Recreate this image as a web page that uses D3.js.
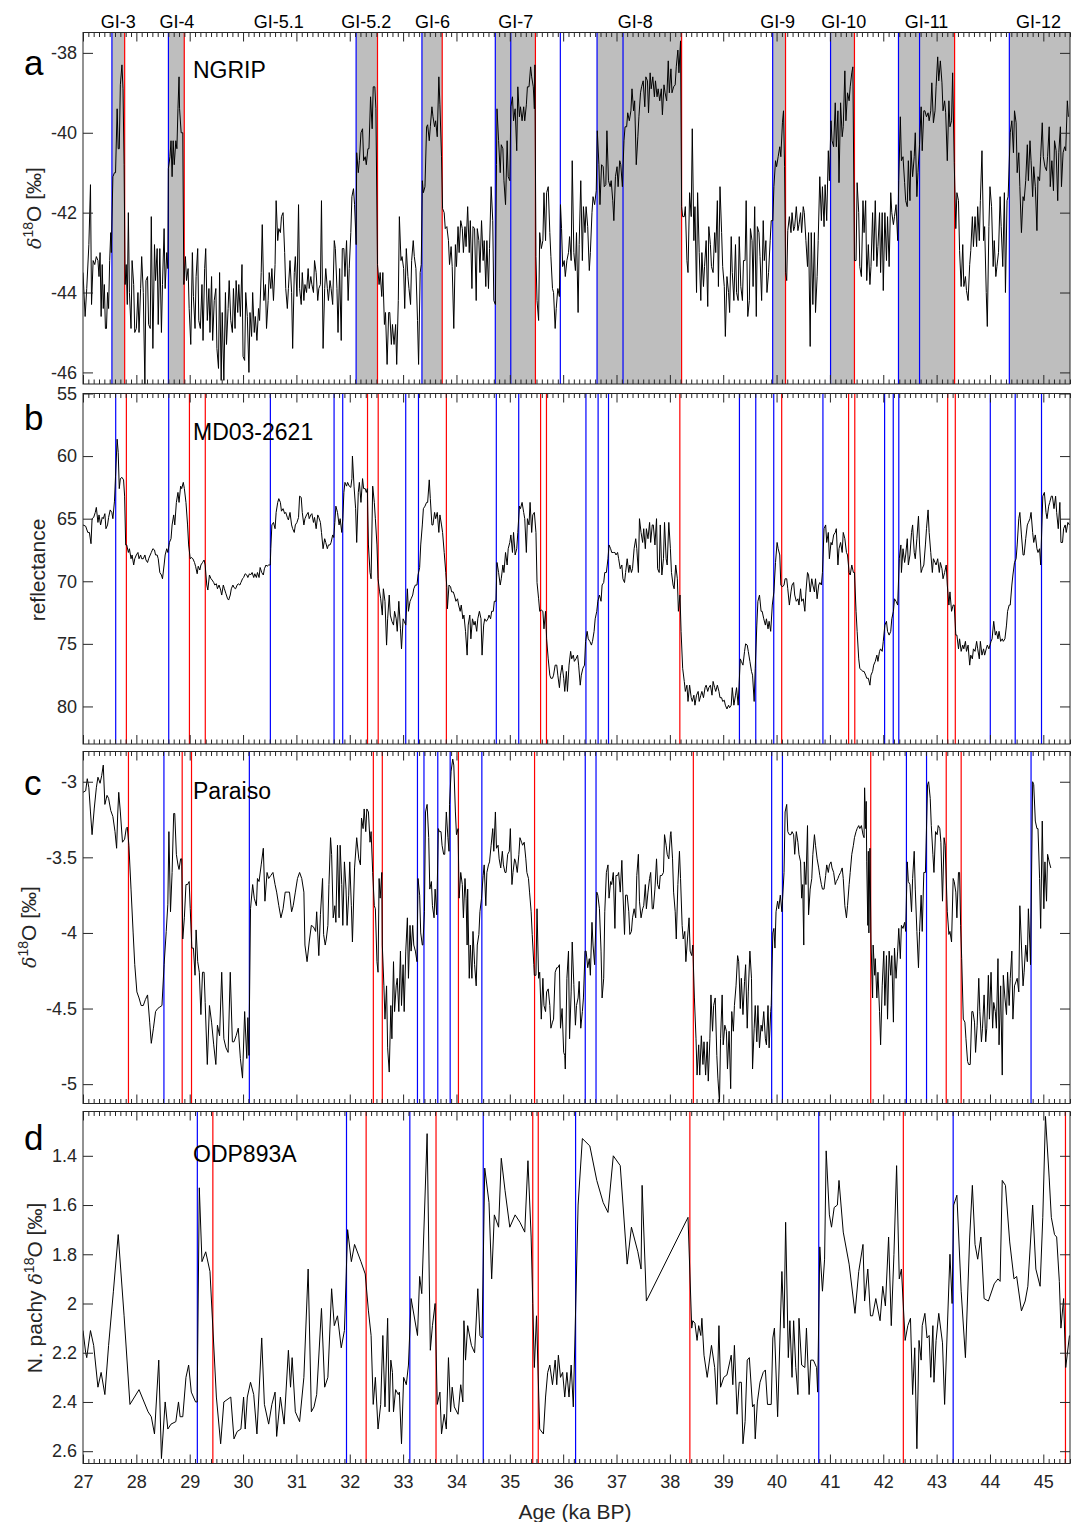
<!DOCTYPE html>
<html><head><meta charset="utf-8">
<script src="https://cdn.jsdelivr.net/npm/d3@7"></script>
<style>body{margin:0;background:#fff}svg{display:block;font-family:"Liberation Sans",Arial,Helvetica,sans-serif}</style>
</head><body>
<svg id="chart" width="1073" height="1522"></svg>
<script>
// ---------------- DATA ----------------
const ageTicks = [27,28,29,30,31,32,33,34,35,36,37,38,39,40,41,42,43,44,45];
const aTicks = [-38,-40,-42,-44,-46];
const bTicks = [55,60,65,70,75,80];
const cTicks = [-3,-3.5,-4,-4.5,-5];
const dTicks = [1.4,1.6,1.8,2,2.2,2.4,2.6];

const giNames = ["GI-3","GI-4","GI-5.1","GI-5.2","GI-6","GI-7","GI-8","GI-9","GI-10","GI-11","GI-12"];
const giAges  = [27.66,28.76,30.67,32.31,33.55,35.11,37.35,40.02,41.26,42.81,44.91];

const aShade = [[27.542,27.781],[28.601,28.898],[32.119,32.52],[33.353,33.733],[34.728,35.48],[36.635,38.22],[39.927,40.168],[41.012,41.46],[42.285,43.337],[44.363,45.5]];
const aBlue = [27.542,28.601,32.119,33.353,34.728,35.018,35.947,36.635,37.122,39.927,41.012,42.285,42.68,44.363];
const aRed  = [27.781,28.898,32.52,33.733,35.48,38.22,40.168,41.46,43.337];
const bBlue = [27.613,28.607,30.512,31.706,31.868,33.049,33.288,34.747,35.167,36.427,36.655,36.85,39.304,39.61,39.947,40.869,42.025,42.187,42.291,44.006,44.473,44.966];
const bRed  = [27.813,28.995,29.292,32.333,32.533,33.811,35.577,35.687,38.187,40.096,41.35,41.466,43.207,43.35];
const cBlue = [28.517,30.118,33.269,33.391,33.65,33.882,34.476,36.414,36.616,39.908,40.11,42.434,42.811,44.77];
const cRed  = [27.852,28.859,29.034,32.442,32.61,34.037,35.464,38.44,41.765,43.18,43.46];
const dBlue = [29.143,31.939,33.126,34.502,36.233,40.791,43.31];
const dRed  = [29.434,32.307,33.617,35.43,35.533,38.375,42.376,45.415];

const ngrip = [[27.00,-43.5],[27.04,-44.6],[27.07,-43.9],[27.11,-42.8],[27.14,-41.3],[27.16,-44.3],[27.19,-43.2],[27.22,-43.3],[27.25,-43.1],[27.28,-43.2],[27.30,-43.6],[27.32,-43.0],[27.34,-44.6],[27.36,-43.3],[27.38,-44.4],[27.40,-43.8],[27.42,-44.9],[27.44,-44.9],[27.46,-44.0],[27.48,-44.4],[27.50,-43.2],[27.52,-42.5],[27.53,-43.0],
[27.56,-41.1],[27.59,-41.0],[27.61,-41.0],[27.64,-39.4],[27.66,-40.4],[27.68,-40.4],[27.70,-38.8],[27.73,-38.3],[27.75,-38.9],[27.77,-40.8],[27.79,-43.8],
[27.81,-43.3],[27.83,-44.3],[27.85,-42.0],[27.87,-44.0],[27.90,-44.9],[27.92,-43.2],[27.95,-43.8],[27.97,-45.0],[28.00,-44.9],[28.03,-44.0],[28.05,-45.0],[28.08,-43.9],[28.10,-43.1],[28.13,-44.0],[28.16,-46.3],[28.18,-43.7],[28.21,-43.6],[28.23,-44.8],[28.26,-44.9],[28.28,-42.1],[28.31,-45.4],[28.34,-42.8],[28.36,-43.7],[28.39,-42.9],[28.41,-44.8],[28.44,-42.9],[28.47,-45.0],[28.49,-43.8],[28.52,-42.4],[28.54,-43.9],[28.57,-43.0],[28.59,-43.4],
[28.60,-40.9],[28.63,-40.6],[28.65,-40.2],[28.67,-41.1],[28.69,-40.2],[28.71,-40.8],[28.74,-40.2],[28.76,-40.4],[28.78,-39.4],[28.80,-38.6],[28.81,-39.4],[28.84,-40.0],[28.87,-40.0],[28.89,-43.8],
[28.92,-43.1],[28.94,-43.7],[28.97,-43.4],[28.99,-44.4],[29.02,-45.3],[29.05,-43.0],[29.07,-44.1],[29.10,-44.9],[29.12,-43.6],[29.15,-42.9],[29.17,-44.7],[29.20,-44.9],[29.23,-43.8],[29.25,-45.2],[29.28,-43.4],[29.30,-42.9],[29.33,-44.7],[29.36,-43.9],[29.38,-45.0],[29.41,-43.6],[29.43,-45.2],[29.46,-44.2],[29.49,-43.9],[29.51,-45.4],[29.54,-45.9],[29.56,-43.5],[29.59,-46.2],[29.61,-44.5],[29.64,-46.2],[29.67,-44.0],[29.69,-45.3],[29.72,-44.4],[29.74,-43.7],[29.77,-44.7],[29.80,-45.0],[29.82,-43.9],[29.85,-44.9],[29.87,-43.7],[29.90,-44.5],[29.92,-43.8],[29.95,-44.6],[29.98,-43.3],[30.00,-45.6],[30.03,-45.7],[30.05,-44.0],[30.08,-44.6],[30.11,-46.0],[30.13,-44.5],[30.16,-45.1],[30.18,-44.0],[30.21,-45.0],[30.23,-44.6],[30.26,-45.2],[30.29,-44.4],[30.31,-44.7],[30.34,-43.5],[30.36,-42.3],[30.39,-44.2],[30.42,-43.8],[30.44,-44.9],[30.47,-44.2],[30.49,-43.5],[30.52,-43.9],[30.54,-43.4],[30.57,-44.2],[30.60,-43.3],[30.62,-41.7],[30.65,-42.7],[30.67,-42.4],[30.70,-42.5],[30.72,-42.1],[30.75,-42.0],[30.78,-43.0],[30.80,-43.9],[30.83,-44.4],[30.85,-43.9],[30.88,-43.2],[30.91,-44.0],[30.93,-45.4],[30.96,-43.5],[30.98,-43.1],[31.01,-44.1],[31.04,-41.8],[31.06,-43.9],[31.09,-44.3],[31.11,-43.5],[31.14,-44.2],[31.16,-43.8],[31.19,-44.0],[31.22,-43.4],[31.24,-43.9],[31.27,-43.6],[31.29,-43.8],[31.32,-44.0],[31.34,-43.2],[31.37,-43.5],[31.40,-44.2],[31.42,-43.9],[31.45,-43.8],[31.47,-41.7],[31.50,-45.4],[31.53,-43.9],[31.55,-43.4],[31.58,-43.9],[31.60,-44.2],[31.63,-43.7],[31.65,-43.9],[31.68,-44.3],[31.71,-42.7],[31.73,-42.9],[31.76,-43.9],[31.78,-45.0],[31.81,-43.4],[31.84,-45.2],[31.86,-42.9],[31.89,-42.9],[31.91,-43.6],[31.94,-42.7],[31.97,-44.2],[31.99,-43.4],[32.02,-42.5],[32.04,-41.6],[32.07,-41.4],[32.09,-41.8],[32.12,-42.8],
[32.13,-40.5],[32.16,-41.0],[32.18,-40.7],[32.21,-40.0],[32.24,-39.9],[32.26,-40.7],[32.29,-40.6],[32.31,-40.8],[32.34,-40.4],[32.36,-40.4],[32.39,-39.1],[32.42,-39.9],[32.44,-38.85],[32.47,-38.85],[32.49,-39.4],[32.52,-43.3],
[32.55,-43.8],[32.57,-43.5],[32.60,-44.1],[32.62,-43.5],[32.65,-44.8],[32.67,-44.5],[32.70,-45.8],[32.73,-44.5],[32.75,-44.5],[32.78,-45.3],[32.80,-44.8],[32.83,-45.3],[32.86,-44.8],[32.88,-45.8],[32.91,-44.2],[32.93,-42.1],[32.96,-43.2],[32.98,-43.1],[33.01,-43.4],[33.03,-44.4],[33.06,-42.9],[33.09,-43.6],[33.11,-43.9],[33.14,-44.3],[33.16,-43.2],[33.19,-42.7],[33.21,-43.1],[33.24,-43.4],[33.27,-44.7],[33.29,-45.8],[33.32,-43.5],[33.34,-43.3],
[33.36,-41.2],[33.38,-41.5],[33.41,-41.35],[33.44,-39.85],[33.46,-39.8],[33.49,-40.2],[33.51,-39.85],[33.54,-39.35],[33.56,-39.6],[33.59,-39.85],[33.61,-39.7],[33.64,-40.1],[33.67,-38.6],[33.69,-39.3],[33.72,-40.6],[33.74,-41.9],
[33.77,-42.0],[33.79,-42.4],[33.82,-42.35],[33.85,-42.7],[33.87,-43.3],[33.90,-42.85],[33.92,-43.35],[33.95,-44.9],[33.98,-42.8],[34.00,-43.35],[34.03,-42.35],[34.05,-43.0],[34.08,-42.2],[34.11,-42.4],[34.13,-43.0],[34.16,-42.35],[34.18,-42.85],[34.21,-41.85],[34.24,-43.0],[34.26,-42.2],[34.29,-43.9],[34.31,-42.35],[34.34,-42.4],[34.37,-44.2],[34.39,-42.4],[34.42,-42.7],[34.44,-43.5],[34.47,-42.2],[34.50,-43.2],[34.52,-42.7],[34.55,-43.85],[34.57,-42.7],[34.60,-43.9],[34.62,-42.9],[34.65,-41.35],[34.68,-42.2],[34.70,-44.2],[34.73,-44.3],
[34.75,-40.8],[34.76,-39.4],[34.79,-40.2],[34.82,-41.0],[34.84,-40.3],[34.87,-40.4],[34.89,-41.2],[34.92,-41.8],[34.95,-40.2],[34.97,-41.1],[35.00,-41.2],[35.02,-39.35],[35.05,-39.1],[35.07,-39.7],[35.10,-39.4],[35.13,-40.45],[35.15,-38.85],[35.18,-39.6],[35.20,-39.35],[35.23,-39.7],[35.26,-39.35],[35.28,-39.7],[35.31,-39.3],[35.33,-38.85],[35.36,-38.85],[35.39,-38.35],[35.41,-38.6],[35.44,-38.85],[35.46,-39.4],[35.47,-38.3],
[35.49,-43.1],[35.51,-44.2],[35.54,-44.7],[35.56,-42.5],[35.59,-42.9],[35.62,-42.7],[35.64,-41.5],[35.67,-42.7],[35.69,-41.5],[35.72,-41.35],[35.75,-42.5],[35.77,-43.1],[35.80,-43.9],[35.82,-44.0],[35.85,-44.9],[35.87,-44.4],[35.90,-43.9],[35.93,-44.1],[35.95,-41.8],[35.97,-42.4],[35.99,-43.35],[36.02,-43.2],[36.04,-43.6],[36.07,-43.2],[36.10,-43.0],[36.12,-42.6],[36.15,-43.2],[36.17,-40.7],[36.20,-43.0],[36.23,-43.45],[36.25,-42.5],[36.28,-44.5],[36.30,-42.8],[36.33,-41.2],[36.36,-43.2],[36.38,-41.85],[36.41,-42.5],[36.43,-41.85],[36.46,-42.35],[36.49,-43.45],[36.51,-43.0],[36.54,-42.0],[36.56,-41.6],[36.59,-41.8],[36.62,-41.45],
[36.64,-39.95],[36.67,-40.8],[36.69,-41.8],[36.72,-40.8],[36.75,-40.85],[36.77,-41.35],[36.80,-41.3],[36.82,-39.95],[36.85,-41.2],[36.88,-41.35],[36.90,-41.2],[36.93,-41.7],[36.95,-42.2],[36.98,-41.1],[37.01,-40.85],[37.03,-41.35],[37.06,-40.7],[37.08,-40.8],[37.11,-41.35],[37.14,-40.2],[37.16,-39.85],[37.19,-39.85],[37.21,-39.5],[37.24,-39.7],[37.27,-39.45],[37.29,-38.9],[37.32,-39.45],[37.34,-39.2],[37.37,-40.8],[37.40,-40.1],[37.42,-39.6],[37.45,-39.0],[37.47,-38.85],[37.50,-38.7],[37.53,-39.35],[37.55,-38.6],[37.58,-38.7],[37.60,-39.5],[37.63,-38.5],[37.65,-38.9],[37.68,-38.6],[37.71,-39.1],[37.73,-38.7],[37.76,-39.1],[37.78,-38.9],[37.81,-39.2],[37.84,-38.9],[37.86,-39.55],[37.89,-38.8],[37.91,-39.0],[37.94,-39.2],[37.97,-38.2],[37.99,-39.0],[38.02,-38.4],[38.04,-39.0],[38.07,-38.85],[38.10,-38.8],[38.12,-38.35],[38.15,-37.93],[38.17,-38.5],[38.20,-37.7],[38.22,-41.85],
[38.24,-42.1],[38.27,-42.1],[38.29,-41.85],[38.32,-43.2],[38.34,-43.5],[38.37,-41.5],[38.40,-42.1],[38.42,-39.9],[38.45,-42.7],[38.47,-41.85],[38.50,-44.0],[38.52,-41.5],[38.55,-43.0],[38.58,-44.2],[38.60,-43.0],[38.63,-43.85],[38.65,-43.35],[38.68,-42.7],[38.71,-44.35],[38.73,-42.35],[38.76,-42.8],[38.78,-43.35],[38.81,-43.5],[38.84,-42.5],[38.86,-43.0],[38.89,-41.7],[38.91,-43.85],[38.94,-41.35],[38.97,-42.5],[38.99,-43.35],[39.02,-43.85],[39.04,-45.1],[39.07,-43.6],[39.10,-44.0],[39.12,-44.5],[39.15,-42.6],[39.17,-43.5],[39.20,-44.2],[39.23,-42.8],[39.25,-44.0],[39.28,-44.2],[39.30,-42.6],[39.33,-43.85],[39.36,-44.2],[39.38,-43.2],[39.41,-43.2],[39.43,-41.7],[39.46,-44.6],[39.49,-44.2],[39.51,-42.4],[39.54,-42.7],[39.56,-43.85],[39.59,-41.85],[39.62,-44.6],[39.64,-42.35],[39.67,-42.5],[39.69,-43.1],[39.72,-44.2],[39.75,-42.2],[39.77,-43.2],[39.80,-42.7],[39.82,-44.0],[39.85,-43.5],[39.88,-42.7],[39.90,-42.2],
[39.93,-42.2],[39.95,-41.35],[39.98,-40.7],[40.00,-40.85],[40.03,-40.6],[40.06,-40.35],[40.08,-40.6],[40.11,-39.75],[40.13,-39.45],[40.15,-40.85],[40.17,-43.5],
[40.19,-43.7],[40.21,-42.45],[40.24,-42.1],[40.27,-42.5],[40.29,-42.0],[40.32,-42.45],[40.34,-42.35],[40.37,-41.85],[40.40,-42.45],[40.42,-42.3],[40.45,-42.0],[40.47,-42.5],[40.50,-41.85],[40.52,-42.0],[40.55,-42.7],[40.58,-43.35],[40.60,-42.5],[40.63,-45.35],[40.65,-42.5],[40.68,-44.3],[40.71,-42.5],[40.73,-44.5],[40.76,-43.6],[40.78,-42.7],[40.81,-41.1],[40.84,-42.2],[40.86,-41.35],[40.89,-42.35],[40.91,-41.3],[40.94,-42.2],[40.97,-40.45],[40.99,-41.2],
[41.02,-39.7],[41.04,-40.2],[41.07,-40.35],[41.10,-39.25],[41.12,-40.35],[41.15,-39.45],[41.17,-41.25],[41.20,-39.25],[41.23,-40.1],[41.25,-39.85],[41.28,-38.45],[41.30,-39.7],[41.33,-39.0],[41.36,-39.2],[41.38,-38.85],[41.41,-38.5],[41.43,-38.35],[41.46,-43.2],
[41.49,-43.2],[41.51,-41.25],[41.54,-42.0],[41.56,-43.35],[41.59,-43.6],[41.62,-41.7],[41.64,-42.5],[41.67,-41.7],[41.69,-43.7],[41.72,-42.8],[41.75,-43.8],[41.77,-43.35],[41.80,-42.0],[41.82,-43.2],[41.85,-41.7],[41.88,-43.35],[41.90,-42.85],[41.93,-42.0],[41.95,-43.5],[41.98,-42.0],[42.00,-43.95],[42.03,-42.0],[42.06,-43.2],[42.08,-42.1],[42.11,-43.35],[42.14,-41.5],[42.16,-42.0],[42.19,-42.3],[42.21,-42.1],[42.24,-41.8],[42.27,-42.7],
[42.29,-41.2],[42.32,-39.6],[42.34,-40.7],[42.37,-40.6],[42.40,-41.25],[42.42,-41.7],[42.45,-41.85],[42.47,-40.7],[42.50,-41.7],[42.52,-40.45],[42.55,-41.1],[42.58,-40.6],[42.60,-40.0],[42.63,-41.6],[42.65,-41.0],[42.68,-40.3],[42.71,-39.35],[42.73,-40.45],[42.76,-39.45],[42.78,-39.45],[42.81,-39.6],[42.84,-39.5],[42.86,-39.7],[42.89,-39.45],[42.91,-38.75],[42.94,-39.75],[42.97,-39.45],[42.99,-38.85],[43.02,-38.1],[43.04,-38.7],[43.07,-38.2],[43.10,-38.75],[43.12,-39.45],[43.15,-39.2],[43.17,-39.5],[43.20,-40.7],[43.23,-39.2],[43.25,-39.85],[43.28,-39.7],[43.30,-38.5],[43.33,-40.75],
[43.36,-42.4],[43.38,-41.5],[43.41,-41.7],[43.43,-42.95],[43.46,-43.85],[43.49,-42.8],[43.51,-43.85],[43.54,-43.6],[43.56,-43.95],[43.59,-44.2],[43.62,-43.3],[43.64,-42.95],[43.67,-42.1],[43.69,-42.85],[43.72,-42.1],[43.75,-42.85],[43.77,-41.85],[43.80,-42.7],[43.82,-41.7],[43.85,-40.45],[43.88,-42.7],[43.90,-42.35],[43.93,-44.0],[43.95,-44.85],[43.98,-42.35],[44.00,-41.35],[44.03,-41.85],[44.06,-43.35],[44.08,-42.7],[44.11,-43.6],[44.13,-43.35],[44.16,-43.0],[44.19,-41.6],[44.21,-42.35],[44.24,-43.35],[44.27,-41.5],[44.29,-44.0],[44.32,-41.7],[44.34,-41.6],
[44.38,-40.0],[44.41,-39.7],[44.44,-40.5],[44.46,-39.45],[44.49,-39.75],[44.51,-41.0],[44.54,-40.5],[44.56,-41.35],[44.59,-42.5],[44.62,-41.6],[44.64,-41.7],[44.67,-41.2],[44.70,-40.3],[44.72,-41.2],[44.75,-40.2],[44.77,-40.7],[44.80,-41.6],[44.82,-40.85],[44.85,-41.35],[44.88,-42.45],[44.90,-41.1],[44.93,-41.2],[44.95,-40.6],[44.98,-39.75],[45.00,-40.6],[45.03,-40.85],[45.06,-40.95],[45.08,-40.6],[45.11,-39.85],[45.13,-41.35],[45.16,-40.7],[45.19,-41.45],[45.21,-40.2],[45.24,-40.45],[45.27,-41.7],[45.29,-40.5],[45.32,-39.85],[45.34,-41.35],[45.37,-40.5],[45.40,-40.35],[45.42,-40.45],[45.45,-39.2],[45.47,-39.6]];

const md03 = [[27.00,65.5],[27.05,65.6],[27.09,66.1],[27.12,66.1],[27.15,67.0],[27.17,65.0],[27.20,64.9],[27.23,64.5],[27.25,64.1],[27.28,65.3],[27.30,64.7],[27.33,65.5],[27.36,64.9],[27.38,65.0],[27.41,64.6],[27.43,65.8],[27.46,65.5],[27.48,64.9],[27.51,64.3],[27.54,64.5],[27.56,65.0],[27.59,63.6],[27.61,61.6],[27.64,58.65],[27.66,59.7],[27.68,62.6],[27.70,61.8],[27.73,61.7],[27.76,61.9],[27.78,63.2],[27.80,67.1],[27.82,67.1],[27.85,67.7],[27.87,67.4],[27.90,68.2],[27.92,67.9],[27.95,68.7],[27.97,68.2],[28.00,67.9],[28.03,67.7],[28.05,68.2],[28.08,67.9],[28.10,68.2],[28.13,68.2],[28.16,67.9],[28.18,68.3],[28.21,68.5],[28.23,68.2],[28.26,67.9],[28.28,67.7],[28.31,67.4],[28.34,67.5],[28.36,67.9],[28.39,67.9],[28.41,68.2],[28.44,69.3],[28.47,69.5],[28.49,69.8],[28.52,68.7],[28.54,67.9],[28.57,67.4],[28.59,67.7],[28.62,66.9],[28.65,66.6],[28.67,65.5],[28.70,64.7],[28.72,65.5],[28.75,63.7],[28.78,62.9],[28.80,63.7],[28.83,62.4],[28.85,62.6],[28.88,62.1],[28.90,62.6],[28.93,63.7],[28.96,65.5],[28.98,67.1],[29.01,68.2],[29.03,68.1],[29.06,68.2],[29.09,68.5],[29.11,68.8],[29.14,69.4],[29.16,68.8],[29.19,69.1],[29.21,68.7],[29.24,68.5],[29.27,68.3],[29.29,68.7],[29.32,70.3],[29.34,70.7],[29.37,69.5],[29.40,69.8],[29.42,69.9],[29.45,70.1],[29.47,70.3],[29.50,70.2],[29.52,70.6],[29.55,70.3],[29.58,70.7],[29.60,71.1],[29.63,70.3],[29.65,70.6],[29.68,71.0],[29.71,71.4],[29.73,71.5],[29.76,71.1],[29.78,70.6],[29.81,70.3],[29.83,70.5],[29.86,70.6],[29.89,70.3],[29.91,70.2],[29.94,70.3],[29.96,70.1],[29.99,69.8],[30.01,69.7],[30.04,69.4],[30.07,69.5],[30.09,69.7],[30.12,69.4],[30.14,69.5],[30.17,69.3],[30.20,69.7],[30.22,69.4],[30.25,69.7],[30.27,69.3],[30.30,69.7],[30.32,68.9],[30.35,69.3],[30.38,69.5],[30.40,69.0],[30.43,68.7],[30.45,68.8],[30.48,68.7],[30.51,68.7],[30.52,67.4],[30.54,65.5],[30.57,65.3],[30.60,65.8],[30.62,64.5],[30.65,63.7],[30.67,63.4],[30.70,63.7],[30.72,64.4],[30.75,64.2],[30.78,64.6],[30.80,64.5],[30.83,64.9],[30.85,65.1],[30.88,64.5],[30.91,65.5],[30.93,65.8],[30.96,66.1],[30.98,65.5],[31.01,65.3],[31.04,64.9],[31.06,63.2],[31.09,63.3],[31.11,64.5],[31.14,65.5],[31.16,65.0],[31.19,64.7],[31.22,64.5],[31.24,65.0],[31.27,64.7],[31.29,64.6],[31.32,65.3],[31.34,64.9],[31.37,65.8],[31.40,64.7],[31.42,64.9],[31.45,65.3],[31.47,66.1],[31.50,67.4],[31.53,66.6],[31.55,66.9],[31.58,67.4],[31.60,67.1],[31.63,67.1],[31.65,66.9],[31.68,66.3],[31.70,66.5],[31.72,65.3],[31.74,64.0],[31.77,64.5],[31.80,65.5],[31.82,65.0],[31.85,66.1],[31.87,65.0],[31.89,62.9],[31.91,62.1],[31.94,62.4],[31.96,62.1],[31.99,62.4],[32.02,62.5],[32.04,61.8],[32.05,60.0],[32.08,62.4],[32.11,64.2],[32.13,66.9],[32.16,62.9],[32.18,62.1],[32.21,63.7],[32.24,61.8],[32.26,62.6],[32.29,62.6],[32.31,62.9],[32.33,62.6],[32.35,67.1],[32.38,69.3],[32.40,69.8],[32.43,62.4],[32.46,63.7],[32.48,65.0],[32.51,67.1],[32.53,69.8],[32.56,70.85],[32.58,71.4],[32.61,72.7],[32.63,70.6],[32.66,71.6],[32.69,75.1],[32.71,73.0],[32.74,71.1],[32.76,72.7],[32.79,73.2],[32.82,73.5],[32.84,72.4],[32.87,73.0],[32.89,74.0],[32.92,71.6],[32.95,73.8],[32.97,75.4],[33.00,73.0],[33.02,73.2],[33.05,73.5],[33.08,70.6],[33.10,72.4],[33.13,71.6],[33.15,71.4],[33.18,71.1],[33.20,70.6],[33.23,70.3],[33.26,70.3],[33.28,69.5],[33.31,68.9],[33.33,67.1],[33.36,65.5],[33.38,64.2],[33.41,64.0],[33.44,63.7],[33.46,63.7],[33.49,61.9],[33.51,63.4],[33.54,65.5],[33.56,65.5],[33.59,64.5],[33.61,65.0],[33.64,64.5],[33.67,66.1],[33.69,64.7],[33.72,65.5],[33.74,66.1],[33.77,67.7],[33.80,69.3],[33.82,70.5],[33.83,72.2],[33.86,70.3],[33.89,70.45],[33.91,70.85],[33.94,70.85],[33.96,71.1],[33.99,71.6],[34.02,71.4],[34.04,71.9],[34.07,72.4],[34.09,71.9],[34.12,73.0],[34.14,72.7],[34.17,74.0],[34.20,75.9],[34.22,73.5],[34.25,72.7],[34.27,74.6],[34.30,73.0],[34.33,73.5],[34.35,73.2],[34.38,74.0],[34.40,73.0],[34.43,72.4],[34.46,73.0],[34.48,75.9],[34.51,73.5],[34.53,73.0],[34.56,73.2],[34.59,73.0],[34.61,72.7],[34.64,73.0],[34.66,72.4],[34.69,72.4],[34.71,71.6],[34.74,71.6],[34.76,68.5],[34.79,69.3],[34.82,70.3],[34.84,69.8],[34.87,68.7],[34.89,69.3],[34.92,67.7],[34.95,68.7],[34.97,67.4],[35.00,66.9],[35.02,66.3],[35.05,67.7],[35.07,66.1],[35.10,67.9],[35.13,67.4],[35.15,66.1],[35.18,64.0],[35.20,64.2],[35.23,63.7],[35.26,64.5],[35.28,65.0],[35.31,67.7],[35.33,65.0],[35.36,65.5],[35.38,63.7],[35.41,66.1],[35.43,64.7],[35.46,64.5],[35.49,66.1],[35.51,70.1],[35.54,71.4],[35.56,72.4],[35.59,72.3],[35.62,72.4],[35.64,73.8],[35.67,72.4],[35.69,74.6],[35.72,76.2],[35.75,77.5],[35.77,77.75],[35.80,77.75],[35.82,77.5],[35.85,76.7],[35.88,76.7],[35.90,77.5],[35.93,78.5],[35.95,77.5],[35.98,76.7],[36.01,77.75],[36.03,78.8],[36.06,77.2],[36.08,78.8],[36.11,76.7],[36.14,75.6],[36.16,76.2],[36.19,75.9],[36.21,76.4],[36.24,76.2],[36.27,75.9],[36.29,76.7],[36.32,78.3],[36.34,77.5],[36.37,76.95],[36.40,76.7],[36.42,74.8],[36.45,74.0],[36.47,74.6],[36.50,74.8],[36.53,75.1],[36.55,74.8],[36.58,74.0],[36.60,73.0],[36.63,72.4],[36.65,71.6],[36.68,71.1],[36.71,71.6],[36.73,70.3],[36.76,70.1],[36.78,69.3],[36.81,69.3],[36.84,68.2],[36.86,67.1],[36.89,67.4],[36.91,67.7],[36.94,67.7],[36.97,67.7],[36.99,67.9],[37.02,67.7],[37.04,68.2],[37.07,69.0],[37.10,68.7],[37.12,69.8],[37.15,70.1],[37.17,69.3],[37.20,68.2],[37.23,69.3],[37.25,68.7],[37.28,69.3],[37.30,69.0],[37.33,67.4],[37.36,66.6],[37.38,67.4],[37.41,69.3],[37.43,65.0],[37.46,66.1],[37.49,66.9],[37.51,65.8],[37.54,67.4],[37.56,65.8],[37.59,66.6],[37.62,65.3],[37.64,66.9],[37.67,65.5],[37.69,65.5],[37.72,67.1],[37.75,65.0],[37.77,69.0],[37.80,69.3],[37.82,65.5],[37.85,69.5],[37.88,68.2],[37.90,65.3],[37.93,68.2],[37.95,68.7],[37.98,65.3],[38.01,67.4],[38.03,69.3],[38.06,70.3],[38.08,70.6],[38.11,68.7],[38.14,69.8],[38.16,72.4],[38.19,71.1],[38.21,74.0],[38.24,76.95],[38.27,78.0],[38.29,78.8],[38.32,78.3],[38.34,79.6],[38.37,78.3],[38.40,79.3],[38.42,79.6],[38.45,79.1],[38.47,79.9],[38.50,79.1],[38.53,78.8],[38.55,79.6],[38.58,79.1],[38.60,78.8],[38.63,79.3],[38.66,78.5],[38.68,78.3],[38.71,78.8],[38.73,78.5],[38.76,78.3],[38.79,79.1],[38.81,78.0],[38.84,78.5],[38.86,78.8],[38.89,78.3],[38.92,78.8],[38.94,79.3],[38.97,79.3],[38.99,79.6],[39.02,79.5],[39.04,79.9],[39.07,80.2],[39.10,79.9],[39.12,80.1],[39.15,79.9],[39.17,78.5],[39.20,79.9],[39.23,79.1],[39.25,78.5],[39.28,79.9],[39.32,76.2],[39.34,76.4],[39.37,76.7],[39.40,75.6],[39.42,75.0],[39.45,75.1],[39.47,75.6],[39.50,76.4],[39.53,77.2],[39.55,77.5],[39.58,79.6],[39.60,76.95],[39.63,73.5],[39.65,71.6],[39.68,71.1],[39.71,72.4],[39.73,72.4],[39.76,73.0],[39.79,73.5],[39.81,73.0],[39.84,73.8],[39.86,73.2],[39.89,74.0],[39.92,71.9],[39.95,70.85],[39.98,68.5],[40.01,66.9],[40.03,67.4],[40.06,67.9],[40.08,70.3],[40.11,70.45],[40.14,70.3],[40.16,69.8],[40.19,69.8],[40.21,70.6],[40.24,71.9],[40.27,70.85],[40.29,70.3],[40.32,70.1],[40.34,71.1],[40.37,71.6],[40.40,71.4],[40.42,71.9],[40.45,70.6],[40.47,71.6],[40.50,71.4],[40.53,72.4],[40.55,70.85],[40.58,69.3],[40.60,69.5],[40.63,70.85],[40.66,69.8],[40.68,70.3],[40.71,70.85],[40.73,69.8],[40.76,71.4],[40.79,70.3],[40.81,70.1],[40.84,70.3],[40.86,69.3],[40.89,65.8],[40.92,65.5],[40.94,66.9],[40.97,66.1],[40.99,68.2],[41.02,66.9],[41.04,67.1],[41.07,66.3],[41.10,66.1],[41.12,65.8],[41.15,68.7],[41.17,67.4],[41.20,66.9],[41.23,67.7],[41.25,66.1],[41.28,66.6],[41.31,67.7],[41.33,67.9],[41.36,69.3],[41.38,69.5],[41.41,68.7],[41.44,69.3],[41.46,69.3],[41.49,72.4],[41.51,74.0],[41.54,76.2],[41.56,76.95],[41.59,77.1],[41.62,77.2],[41.64,77.2],[41.67,77.5],[41.69,77.75],[41.72,77.75],[41.75,78.3],[41.77,77.5],[41.80,77.2],[41.82,76.7],[41.85,76.4],[41.88,75.9],[41.90,76.4],[41.93,75.6],[41.95,75.4],[41.98,75.6],[42.00,74.8],[42.03,73.5],[42.06,73.2],[42.08,74.0],[42.11,74.3],[42.14,74.0],[42.16,73.0],[42.19,72.4],[42.21,71.4],[42.24,71.6],[42.27,71.9],[42.30,68.2],[42.33,67.1],[42.34,69.3],[42.37,67.4],[42.40,68.5],[42.42,67.9],[42.45,66.6],[42.47,68.7],[42.50,67.9],[42.53,66.1],[42.55,65.5],[42.58,67.7],[42.60,68.2],[42.63,66.6],[42.66,64.8],[42.68,67.1],[42.71,69.3],[42.73,69.0],[42.76,68.7],[42.79,67.1],[42.81,65.8],[42.84,64.3],[42.86,66.1],[42.89,67.7],[42.92,69.3],[42.94,68.2],[42.97,68.5],[42.99,68.7],[43.02,68.2],[43.05,69.3],[43.07,68.5],[43.10,69.0],[43.12,69.8],[43.15,69.3],[43.18,68.7],[43.20,70.3],[43.23,71.9],[43.25,70.85],[43.28,72.4],[43.31,71.9],[43.33,71.9],[43.36,74.3],[43.38,74.3],[43.41,75.4],[43.43,74.6],[43.46,75.6],[43.49,75.1],[43.51,75.4],[43.54,74.8],[43.56,75.6],[43.59,75.1],[43.62,76.7],[43.64,75.9],[43.67,76.2],[43.69,75.4],[43.72,75.6],[43.75,74.8],[43.77,75.4],[43.80,76.2],[43.82,74.8],[43.85,75.9],[43.88,75.4],[43.90,75.9],[43.93,75.4],[43.95,75.1],[43.98,75.4],[44.02,74.8],[44.04,74.6],[44.07,73.2],[44.10,74.3],[44.12,74.0],[44.15,74.6],[44.17,74.0],[44.20,74.8],[44.23,74.6],[44.25,74.8],[44.28,74.6],[44.31,73.5],[44.33,72.4],[44.36,71.9],[44.38,71.9],[44.41,70.3],[44.43,69.5],[44.46,68.5],[44.49,68.2],[44.51,67.1],[44.54,65.0],[44.56,64.5],[44.59,66.3],[44.62,67.9],[44.64,67.9],[44.67,66.6],[44.70,65.5],[44.72,65.3],[44.75,65.0],[44.77,64.5],[44.80,66.1],[44.82,66.9],[44.85,66.3],[44.88,67.4],[44.90,67.7],[44.93,67.4],[44.95,68.7],[44.99,63.2],[45.02,62.9],[45.05,64.5],[45.07,65.0],[45.10,64.0],[45.12,63.7],[45.15,63.2],[45.17,63.2],[45.20,64.2],[45.23,63.2],[45.25,64.5],[45.28,65.8],[45.31,63.7],[45.33,66.9],[45.36,66.9],[45.38,65.8],[45.41,65.5],[45.43,66.1],[45.46,65.3],[45.49,65.5]];

const paraiso = [[27.00,-3.07],[27.05,-3.06],[27.08,-2.98],[27.11,-3.04],[27.14,-3.20],[27.17,-3.35],[27.21,-3.18],[27.25,-3.04],[27.28,-2.97],[27.32,-3.01],[27.35,-2.96],[27.38,-2.89],[27.41,-3.15],[27.45,-3.09],[27.48,-3.11],[27.52,-3.19],[27.56,-3.23],[27.60,-3.33],[27.63,-3.44],[27.65,-3.22],[27.67,-3.07],[27.70,-3.20],[27.74,-3.40],[27.78,-3.38],[27.81,-3.31],[27.83,-3.30],[27.86,-3.42],[27.90,-3.71],[27.94,-4.0],[27.97,-4.21],[28.01,-4.39],[28.05,-4.43],[28.09,-4.48],[28.13,-4.48],[28.17,-4.44],[28.21,-4.41],[28.25,-4.59],[28.28,-4.73],[28.32,-4.63],[28.36,-4.52],[28.40,-4.50],[28.44,-4.49],[28.48,-4.48],[28.52,-4.21],[28.56,-3.99],[28.59,-3.81],[28.61,-3.33],[28.64,-3.86],[28.67,-3.60],[28.70,-3.21],[28.72,-3.21],[28.75,-3.48],[28.78,-3.55],[28.80,-3.58],[28.83,-3.51],[28.85,-3.51],[28.87,-4.04],[28.90,-3.90],[28.93,-3.68],[28.96,-3.68],[28.99,-3.66],[29.01,-3.84],[29.04,-4.10],[29.07,-4.10],[29.10,-4.28],[29.12,-3.98],[29.15,-4.19],[29.18,-4.26],[29.21,-4.54],[29.24,-4.26],[29.27,-4.26],[29.29,-4.46],[29.33,-4.87],[29.37,-4.48],[29.41,-4.59],[29.45,-4.74],[29.49,-4.87],[29.52,-4.61],[29.56,-4.68],[29.60,-4.26],[29.64,-4.70],[29.68,-4.76],[29.72,-4.79],[29.76,-4.26],[29.80,-4.72],[29.83,-4.72],[29.87,-4.68],[29.91,-4.63],[29.95,-4.83],[29.99,-4.96],[30.03,-4.52],[30.07,-4.83],[30.09,-4.56],[30.11,-4.81],[30.14,-3.84],[30.18,-3.68],[30.21,-3.77],[30.25,-3.82],[30.27,-3.64],[30.30,-3.66],[30.34,-3.55],[30.38,-3.44],[30.41,-3.79],[30.45,-3.60],[30.48,-3.64],[30.52,-3.62],[30.56,-3.60],[30.60,-3.68],[30.63,-3.73],[30.67,-3.82],[30.71,-3.90],[30.75,-3.84],[30.79,-3.73],[30.83,-3.73],[30.87,-3.73],[30.91,-3.86],[30.94,-3.82],[30.98,-3.73],[31.02,-3.64],[31.06,-3.60],[31.10,-3.64],[31.14,-3.73],[31.16,-4.08],[31.20,-4.19],[31.24,-4.06],[31.28,-3.95],[31.32,-3.96],[31.36,-3.99],[31.38,-3.86],[31.42,-4.15],[31.45,-3.88],[31.49,-3.64],[31.51,-4.01],[31.54,-4.08],[31.56,-4.04],[31.59,-3.95],[31.61,-3.68],[31.64,-3.37],[31.66,-3.48],[31.69,-3.90],[31.72,-3.82],[31.74,-3.93],[31.77,-3.42],[31.80,-3.90],[31.82,-3.42],[31.85,-3.68],[31.87,-3.95],[31.90,-3.53],[31.93,-3.71],[31.95,-3.95],[31.98,-3.75],[32.00,-3.53],[32.03,-3.82],[32.05,-4.06],[32.09,-3.57],[32.13,-3.37],[32.17,-3.51],[32.20,-3.55],[32.22,-3.24],[32.25,-3.31],[32.27,-3.18],[32.30,-3.33],[32.32,-3.18],[32.35,-3.20],[32.38,-3.40],[32.40,-3.33],[32.43,-3.60],[32.46,-3.82],[32.48,-3.84],[32.51,-4.19],[32.53,-4.26],[32.55,-3.64],[32.57,-3.77],[32.60,-3.60],[32.61,-4.08],[32.64,-4.35],[32.66,-4.57],[32.69,-4.35],[32.71,-4.76],[32.74,-4.92],[32.77,-4.48],[32.79,-4.70],[32.82,-4.19],[32.84,-4.52],[32.87,-4.35],[32.89,-4.30],[32.92,-4.52],[32.95,-4.12],[32.97,-4.48],[33.00,-4.21],[33.02,-4.52],[33.05,-4.12],[33.08,-3.90],[33.10,-4.30],[33.13,-3.95],[33.15,-4.12],[33.18,-3.95],[33.20,-4.08],[33.23,-4.12],[33.26,-4.19],[33.28,-3.64],[33.31,-3.75],[33.33,-4.0],[33.36,-4.08],[33.37,-4.08],[33.40,-3.86],[33.42,-3.20],[33.45,-3.15],[33.48,-3.37],[33.50,-3.71],[33.53,-3.66],[33.55,-3.82],[33.58,-3.90],[33.60,-3.71],[33.63,-3.88],[33.66,-3.31],[33.68,-3.33],[33.71,-3.33],[33.73,-3.42],[33.76,-3.48],[33.78,-3.48],[33.81,-3.20],[33.84,-3.37],[33.86,-3.46],[33.87,-3.15],[33.90,-2.93],[33.93,-2.85],[33.95,-2.89],[33.98,-3.20],[34.00,-3.35],[34.03,-3.31],[34.05,-3.77],[34.08,-3.60],[34.11,-3.68],[34.13,-3.90],[34.16,-3.64],[34.18,-3.77],[34.20,-4.08],[34.21,-3.71],[34.24,-4.30],[34.26,-4.08],[34.29,-4.30],[34.31,-3.99],[34.34,-4.21],[34.37,-4.35],[34.39,-4.08],[34.42,-4.01],[34.44,-3.86],[34.47,-3.77],[34.50,-3.62],[34.52,-3.55],[34.55,-3.82],[34.57,-3.60],[34.60,-3.55],[34.62,-3.53],[34.65,-3.42],[34.68,-3.31],[34.70,-3.46],[34.73,-3.20],[34.75,-3.44],[34.78,-3.42],[34.80,-3.51],[34.83,-3.57],[34.86,-3.46],[34.88,-3.55],[34.91,-3.60],[34.93,-3.60],[34.96,-3.48],[34.99,-3.46],[35.01,-3.31],[35.04,-3.68],[35.06,-3.60],[35.09,-3.51],[35.11,-3.53],[35.14,-3.60],[35.17,-3.48],[35.19,-3.37],[35.22,-3.40],[35.24,-3.42],[35.27,-3.40],[35.30,-3.51],[35.32,-3.60],[35.35,-3.64],[35.37,-3.73],[35.40,-3.86],[35.42,-4.01],[35.45,-4.21],[35.46,-4.28],[35.49,-4.28],[35.51,-3.84],[35.54,-4.30],[35.56,-4.26],[35.59,-4.57],[35.62,-4.30],[35.64,-4.48],[35.67,-4.52],[35.69,-4.39],[35.72,-4.37],[35.75,-4.48],[35.77,-4.63],[35.80,-4.59],[35.82,-4.57],[35.85,-4.26],[35.88,-4.23],[35.90,-4.23],[35.93,-4.21],[35.95,-4.63],[35.98,-4.50],[36.01,-4.79],[36.03,-4.81],[36.04,-4.90],[36.07,-4.30],[36.10,-4.12],[36.12,-4.70],[36.15,-4.39],[36.17,-4.06],[36.20,-4.34],[36.23,-4.61],[36.25,-4.48],[36.28,-4.43],[36.30,-4.32],[36.33,-4.63],[36.36,-4.52],[36.38,-4.43],[36.41,-4.12],[36.43,-4.12],[36.46,-4.23],[36.49,-4.17],[36.51,-4.28],[36.54,-3.93],[36.56,-4.08],[36.59,-4.21],[36.63,-3.73],[36.65,-3.75],[36.68,-3.84],[36.71,-4.12],[36.73,-4.43],[36.76,-4.30],[36.78,-3.86],[36.81,-3.60],[36.84,-3.55],[36.86,-3.77],[36.89,-3.66],[36.91,-3.68],[36.94,-3.60],[36.97,-3.97],[36.99,-3.62],[37.02,-3.62],[37.04,-3.60],[37.07,-3.73],[37.10,-3.52],[37.12,-3.73],[37.15,-4.01],[37.17,-3.75],[37.20,-3.75],[37.23,-3.86],[37.25,-4.01],[37.28,-3.99],[37.30,-3.90],[37.33,-3.84],[37.36,-3.90],[37.38,-3.62],[37.41,-3.48],[37.43,-3.79],[37.46,-3.90],[37.49,-3.84],[37.51,-3.82],[37.54,-3.68],[37.56,-3.84],[37.59,-3.73],[37.62,-3.64],[37.64,-3.60],[37.67,-3.84],[37.69,-3.84],[37.72,-3.71],[37.75,-3.51],[37.77,-3.68],[37.80,-3.71],[37.82,-3.62],[37.85,-3.62],[37.88,-3.60],[37.90,-3.35],[37.93,-3.42],[37.95,-3.48],[37.98,-3.51],[38.01,-3.35],[38.02,-3.33],[38.05,-3.51],[38.07,-3.73],[38.10,-3.86],[38.12,-4.04],[38.15,-3.68],[38.18,-3.46],[38.20,-3.64],[38.23,-3.95],[38.25,-4.04],[38.28,-3.99],[38.30,-4.19],[38.33,-4.04],[38.36,-3.90],[38.38,-4.12],[38.41,-4.15],[38.43,-4.08],[38.46,-4.43],[38.49,-4.70],[38.51,-4.94],[38.54,-4.74],[38.56,-4.94],[38.59,-4.68],[38.62,-4.87],[38.64,-4.72],[38.67,-4.94],[38.70,-4.72],[38.72,-4.98],[38.75,-4.70],[38.77,-4.41],[38.80,-4.65],[38.82,-4.48],[38.85,-4.43],[38.88,-4.81],[38.90,-4.96],[38.93,-5.12],[38.95,-4.70],[38.98,-4.41],[39.00,-4.74],[39.03,-4.61],[39.06,-4.65],[39.08,-4.90],[39.11,-4.65],[39.14,-5.03],[39.16,-4.52],[39.19,-4.65],[39.21,-4.48],[39.24,-4.35],[39.27,-4.15],[39.29,-4.19],[39.32,-4.50],[39.34,-4.30],[39.37,-4.54],[39.40,-4.32],[39.42,-4.21],[39.45,-4.63],[39.47,-4.39],[39.50,-4.12],[39.53,-4.30],[39.55,-4.90],[39.58,-4.63],[39.60,-4.48],[39.63,-4.72],[39.65,-4.48],[39.68,-4.76],[39.71,-4.61],[39.73,-4.65],[39.76,-4.52],[39.79,-4.70],[39.81,-4.74],[39.84,-4.48],[39.86,-4.76],[39.89,-4.52],[39.90,-4.48],[39.93,-4.0],[39.95,-3.97],[39.97,-4.10],[39.99,-3.86],[40.02,-3.79],[40.04,-3.84],[40.07,-3.75],[40.10,-3.86],[40.14,-3.60],[40.16,-3.20],[40.19,-3.15],[40.21,-3.33],[40.24,-3.35],[40.27,-3.35],[40.29,-3.33],[40.32,-3.35],[40.34,-3.48],[40.37,-3.33],[40.40,-3.40],[40.42,-3.48],[40.45,-3.53],[40.47,-3.77],[40.49,-3.68],[40.51,-4.08],[40.52,-3.53],[40.55,-3.68],[40.58,-3.29],[40.60,-3.88],[40.63,-3.71],[40.66,-3.64],[40.68,-3.48],[40.71,-3.35],[40.73,-3.42],[40.76,-3.51],[40.79,-3.57],[40.81,-3.62],[40.84,-3.68],[40.86,-3.71],[40.89,-3.71],[40.92,-3.62],[40.94,-3.55],[40.97,-3.60],[40.99,-3.55],[41.02,-3.53],[41.04,-3.57],[41.07,-3.60],[41.10,-3.68],[41.12,-3.66],[41.15,-3.64],[41.17,-3.62],[41.20,-3.60],[41.23,-3.57],[41.25,-3.64],[41.28,-3.82],[41.31,-3.90],[41.33,-3.82],[41.36,-3.68],[41.38,-3.60],[41.41,-3.48],[41.44,-3.42],[41.46,-3.37],[41.49,-3.33],[41.51,-3.31],[41.54,-3.29],[41.56,-3.31],[41.59,-3.29],[41.62,-3.35],[41.64,-3.37],[41.65,-3.04],[41.67,-3.31],[41.68,-3.13],[41.69,-3.53],[41.71,-3.95],[41.72,-3.46],[41.73,-4.0],[41.75,-3.44],[41.77,-4.06],[41.80,-4.43],[41.81,-4.08],[41.84,-4.28],[41.85,-4.17],[41.88,-4.43],[41.90,-4.26],[41.93,-4.52],[41.95,-4.74],[41.98,-4.35],[42.01,-4.12],[42.03,-4.48],[42.06,-4.15],[42.08,-4.57],[42.11,-4.12],[42.14,-4.28],[42.16,-4.15],[42.19,-4.59],[42.21,-4.10],[42.24,-4.30],[42.27,-4.12],[42.29,-3.97],[42.32,-4.17],[42.34,-3.95],[42.37,-3.97],[42.40,-3.93],[42.42,-3.99],[42.45,-3.53],[42.47,-3.66],[42.50,-3.68],[42.53,-3.86],[42.55,-3.64],[42.58,-3.46],[42.60,-3.71],[42.63,-3.99],[42.66,-4.23],[42.68,-3.99],[42.71,-3.75],[42.73,-3.99],[42.76,-3.60],[42.79,-3.60],[42.83,-3.02],[42.85,-3.00],[42.88,-3.11],[42.90,-3.29],[42.93,-3.48],[42.95,-3.60],[42.98,-3.33],[43.01,-3.35],[43.03,-3.29],[43.06,-3.31],[43.08,-3.40],[43.11,-3.79],[43.14,-3.37],[43.16,-3.42],[43.20,-3.86],[43.23,-4.01],[43.25,-3.99],[43.28,-4.06],[43.31,-3.64],[43.33,-3.66],[43.36,-3.73],[43.38,-3.90],[43.41,-3.60],[43.43,-3.60],[43.45,-3.95],[43.47,-4.17],[43.50,-4.57],[43.53,-4.59],[43.55,-4.70],[43.58,-4.85],[43.60,-4.87],[43.63,-4.87],[43.66,-4.52],[43.68,-4.52],[43.71,-4.59],[43.73,-4.79],[43.76,-4.61],[43.79,-4.30],[43.81,-4.52],[43.84,-4.72],[43.86,-4.63],[43.89,-4.41],[43.92,-4.72],[43.94,-4.63],[43.97,-4.28],[43.99,-4.57],[44.02,-4.26],[44.05,-4.63],[44.07,-4.46],[44.10,-4.52],[44.12,-4.63],[44.15,-4.17],[44.17,-4.74],[44.20,-4.35],[44.23,-4.94],[44.25,-4.28],[44.28,-4.43],[44.31,-4.54],[44.33,-4.26],[44.36,-4.48],[44.38,-4.30],[44.41,-4.12],[44.43,-4.57],[44.46,-4.35],[44.49,-4.32],[44.51,-4.30],[44.54,-4.39],[44.56,-3.82],[44.59,-4.08],[44.62,-4.35],[44.64,-4.26],[44.67,-4.08],[44.70,-4.19],[44.72,-3.84],[44.75,-4.10],[44.76,-4.21],[44.80,-3.00],[44.82,-3.02],[44.85,-3.26],[44.88,-3.31],[44.90,-3.31],[44.93,-3.64],[44.95,-3.97],[44.98,-3.26],[45.01,-3.84],[45.03,-3.53],[45.06,-3.79],[45.08,-3.48],[45.11,-3.53],[45.14,-3.57]];

const odp893 = [[27.00,2.11],[27.05,2.20],[27.07,2.22],[27.14,2.11],[27.20,2.17],[27.28,2.34],[27.34,2.28],[27.41,2.37],[27.48,2.17],[27.57,1.95],[27.66,1.72],[27.77,2.05],[27.88,2.41],[28.05,2.35],[28.22,2.44],[28.28,2.46],[28.34,2.53],[28.42,2.23],[28.47,2.63],[28.54,2.40],[28.59,2.51],[28.65,2.49],[28.74,2.48],[28.79,2.40],[28.82,2.46],[28.87,2.46],[28.93,2.30],[28.98,2.25],[29.03,2.36],[29.11,2.40],[29.14,2.40],[29.18,1.53],[29.23,1.83],[29.30,1.79],[29.38,1.87],[29.50,2.38],[29.58,2.57],[29.64,2.40],[29.77,2.38],[29.83,2.55],[29.89,2.52],[29.96,2.51],[30.01,2.38],[30.04,2.51],[30.08,2.38],[30.14,2.32],[30.20,2.37],[30.26,2.53],[30.35,2.14],[30.40,2.41],[30.48,2.49],[30.54,2.41],[30.60,2.36],[30.63,2.54],[30.70,2.38],[30.77,2.49],[30.85,2.19],[30.89,2.34],[30.92,2.22],[30.98,2.44],[31.06,2.48],[31.14,2.30],[31.22,1.86],[31.28,2.44],[31.33,2.42],[31.38,2.37],[31.47,2.02],[31.53,2.34],[31.59,2.30],[31.66,1.94],[31.71,2.09],[31.77,2.05],[31.84,2.18],[31.90,2.11],[31.96,1.70],[32.03,1.83],[32.09,1.76],[32.21,1.83],[32.29,1.88],[32.35,2.03],[32.40,2.13],[32.44,2.41],[32.48,2.30],[32.53,2.51],[32.58,2.41],[32.62,2.13],[32.66,2.42],[32.71,2.06],[32.74,2.44],[32.77,2.23],[32.80,2.28],[32.82,2.44],[32.86,2.35],[32.91,2.37],[32.93,2.36],[32.97,2.57],[33.01,2.30],[33.06,2.33],[33.10,2.25],[33.15,1.98],[33.27,2.13],[33.31,1.89],[33.35,1.96],[33.45,1.31],[33.51,2.19],[33.55,2.09],[33.60,2.00],[33.64,2.41],[33.69,2.36],[33.72,2.53],[33.77,2.45],[33.81,2.51],[33.85,2.22],[33.89,2.44],[33.92,2.34],[33.96,2.42],[34.03,2.45],[34.08,2.33],[34.12,2.40],[34.14,2.07],[34.17,2.23],[34.21,2.09],[34.28,2.17],[34.34,2.20],[34.40,1.94],[34.44,2.13],[34.48,2.14],[34.53,1.45],[34.61,1.59],[34.66,1.90],[34.71,1.64],[34.79,1.69],[34.84,1.41],[34.91,1.54],[35.00,1.69],[35.10,1.64],[35.19,1.67],[35.28,1.71],[35.34,1.42],[35.40,1.73],[35.43,2.00],[35.46,2.26],[35.50,2.05],[35.56,2.51],[35.63,2.53],[35.67,2.38],[35.71,2.28],[35.75,2.25],[35.80,2.33],[35.85,2.23],[35.88,2.33],[35.91,2.21],[35.95,2.30],[35.99,2.28],[36.03,2.38],[36.07,2.28],[36.11,2.38],[36.15,2.25],[36.19,2.42],[36.28,1.60],[36.36,1.33],[36.50,1.36],[36.63,1.50],[36.75,1.59],[36.84,1.63],[36.94,1.40],[37.07,1.44],[37.20,1.84],[37.28,1.69],[37.40,1.79],[37.46,1.86],[37.48,1.52],[37.56,1.99],[38.34,1.65],[38.41,2.10],[38.43,2.07],[38.47,2.08],[38.51,2.15],[38.54,2.09],[38.58,2.13],[38.60,2.06],[38.64,2.21],[38.70,2.30],[38.78,2.17],[38.84,2.26],[38.88,2.41],[38.92,2.09],[38.95,2.34],[39.01,2.30],[39.07,2.29],[39.15,2.21],[39.18,2.33],[39.21,2.17],[39.26,2.45],[39.30,2.32],[39.34,2.32],[39.37,2.57],[39.41,2.48],[39.45,2.23],[39.49,2.22],[39.55,2.42],[39.58,2.41],[39.60,2.55],[39.64,2.40],[39.69,2.32],[39.75,2.28],[39.79,2.27],[39.83,2.41],[39.90,2.41],[39.93,2.14],[39.96,2.10],[40.02,2.46],[40.10,1.87],[40.14,2.10],[40.17,1.67],[40.22,2.22],[40.25,2.07],[40.29,2.30],[40.32,2.07],[40.36,2.26],[40.40,2.37],[40.42,2.06],[40.47,2.25],[40.53,2.26],[40.56,2.10],[40.61,2.37],[40.64,2.23],[40.69,2.23],[40.75,2.26],[40.77,2.36],[40.81,1.77],[40.86,1.95],[40.90,1.82],[40.93,1.38],[40.99,1.64],[41.03,1.69],[41.08,1.61],[41.14,1.60],[41.17,1.50],[41.25,1.71],[41.36,1.84],[41.47,2.04],[41.54,1.87],[41.62,1.76],[41.65,1.99],[41.71,1.86],[41.76,2.05],[41.80,2.05],[41.86,1.98],[41.94,2.07],[41.99,1.93],[42.04,2.01],[42.10,1.73],[42.15,2.09],[42.20,1.80],[42.25,1.44],[42.30,1.90],[42.34,1.86],[42.41,2.15],[42.46,2.09],[42.51,2.06],[42.55,2.37],[42.59,2.18],[42.63,2.59],[42.67,2.15],[42.71,2.23],[42.73,2.09],[42.78,2.04],[42.82,2.14],[42.86,2.13],[42.89,2.30],[42.93,2.09],[42.95,2.32],[42.99,2.15],[43.04,2.04],[43.11,2.16],[43.15,2.41],[43.25,1.80],[43.29,2.00],[43.32,1.60],[43.38,1.56],[43.46,1.95],[43.54,2.22],[43.62,1.73],[43.67,1.52],[43.72,1.76],[43.77,1.82],[43.83,1.73],[43.89,1.98],[43.97,1.99],[44.08,1.92],[44.15,1.90],[44.19,1.91],[44.23,1.50],[44.29,1.52],[44.37,1.75],[44.45,1.90],[44.50,1.89],[44.59,2.03],[44.66,1.99],[44.71,1.93],[44.80,1.60],[44.86,1.86],[44.94,1.93],[44.99,1.65],[45.04,1.24],[45.11,1.49],[45.15,1.65],[45.21,1.72],[45.25,1.73],[45.30,1.91],[45.33,2.10],[45.38,1.98],[45.42,2.26],[45.49,2.13]];

// ---------------- DRAWING ----------------
const ink = '#262626';
const svg = d3.select('#chart');
const X0 = 83, X1 = 1070;
const x = d3.scaleLinear().domain([27, 45.5]).range([X0, X1]);
const minorAges = d3.range(271, 456).filter(v => v % 10 !== 0).map(v => v / 10);

const panels = [
  {letter:'a', top:32.5, bottom:384, domain:[-46.29,-37.49], rev:false, ticks:aTicks, data:ngrip, blue:aBlue, red:aRed, shade:aShade, name:'NGRIP', nameY:78, letterY:75, lab:'d18', labX:41, labY:208},
  {letter:'b', top:393.5, bottom:744, domain:[55,83], rev:true, ticks:bTicks, data:md03, blue:bBlue, red:bRed, shade:[], name:'MD03-2621', nameY:440, letterY:430, lab:'refl', labX:45, labY:570},
  {letter:'c', top:751.5, bottom:1103.5, domain:[-5.128,-2.80], rev:false, ticks:cTicks, data:paraiso, blue:cBlue, red:cRed, shade:[], name:'Paraiso', nameY:799, letterY:795, lab:'d18', labX:36, labY:927},
  {letter:'d', top:1111.5, bottom:1463.5, domain:[1.22,2.65], rev:true, ticks:dTicks, data:odp893, blue:dBlue, red:dRed, shade:[], name:'ODP893A', nameY:1162, letterY:1150, lab:'pachy', labX:42, labY:1288}
];

const defs = svg.append('defs');

function styleAxis(g){
  g.attr('font-size', 18).attr('font-family', '"Liberation Sans", Arial, sans-serif');
  g.select('.domain').remove();
  g.selectAll('line').attr('stroke', ink).attr('stroke-width', 1);
  g.selectAll('text').attr('fill', ink);
}

panels.forEach((p, i) => {
  const y = d3.scaleLinear().domain(p.domain).range(p.rev ? [p.top, p.bottom] : [p.bottom, p.top]);
  const h = p.bottom - p.top;
  defs.append('clipPath').attr('id', 'clip' + i)
    .append('rect').attr('x', X0).attr('y', p.top).attr('width', X1 - X0).attr('height', h);
  const plot = svg.append('g').attr('clip-path', `url(#clip${i})`);

  plot.selectAll('rect.shade').data(p.shade).join('rect')
    .attr('x', d => x(d[0])).attr('width', d => x(d[1]) - x(d[0]))
    .attr('y', p.top).attr('height', h).attr('fill', '#bebebe');

  plot.selectAll('line.b').data(p.blue).join('line')
    .attr('x1', d => x(d)).attr('x2', d => x(d)).attr('y1', p.top).attr('y2', p.bottom)
    .attr('stroke', '#0000ff').attr('stroke-width', 1.2);
  plot.selectAll('line.r').data(p.red).join('line')
    .attr('x1', d => x(d)).attr('x2', d => x(d)).attr('y1', p.top).attr('y2', p.bottom)
    .attr('stroke', '#ff0000').attr('stroke-width', 1.2);

  const line = d3.line().x(d => x(d[0])).y(d => y(d[1]));
  plot.append('path').datum(p.data).attr('d', line)
    .attr('fill', 'none').attr('stroke', '#000').attr('stroke-width', 1).attr('stroke-linejoin', 'round');

  const fmt = v => String(v);
  styleAxis(svg.append('g').attr('transform', `translate(${X0},0)`)
    .call(d3.axisLeft(y).tickValues(p.ticks).tickSizeInner(-10).tickSizeOuter(0).tickPadding(6).tickFormat(fmt)));
  styleAxis(svg.append('g').attr('transform', `translate(${X1},0)`)
    .call(d3.axisRight(y).tickValues(p.ticks).tickSizeInner(-10).tickSizeOuter(0).tickFormat('')));
  styleAxis(svg.append('g').attr('transform', `translate(0,${p.top})`)
    .call(d3.axisTop(x).tickValues(ageTicks).tickSizeInner(-9).tickSizeOuter(0).tickFormat('')));
  styleAxis(svg.append('g').attr('transform', `translate(0,${p.top})`)
    .call(d3.axisTop(x).tickValues(minorAges).tickSizeInner(-4.5).tickSizeOuter(0).tickFormat('')));
  styleAxis(svg.append('g').attr('transform', `translate(0,${p.bottom})`)
    .call(d3.axisBottom(x).tickValues(ageTicks).tickSizeInner(-9).tickSizeOuter(0).tickPadding(12)
      .tickFormat(i === 3 ? fmt : '')));
  styleAxis(svg.append('g').attr('transform', `translate(0,${p.bottom})`)
    .call(d3.axisBottom(x).tickValues(minorAges).tickSizeInner(-4.5).tickSizeOuter(0).tickFormat('')));

  svg.append('rect').attr('x', X0).attr('y', p.top).attr('width', X1 - X0).attr('height', h)
    .attr('fill', 'none').attr('stroke', ink).attr('stroke-width', 1);

  svg.append('text').attr('x', 24).attr('y', p.letterY).attr('font-size', 35).attr('fill', '#000').text(p.letter);
  svg.append('text').attr('x', 193).attr('y', p.nameY).attr('font-size', 23).attr('fill', '#000').text(p.name);

  const t = svg.append('text').attr('transform', `translate(${p.labX},${p.labY}) rotate(-90)`)
    .attr('text-anchor', 'middle').attr('font-size', 21).attr('fill', ink);
  if (p.lab === 'refl') {
    t.text('reflectance');
  } else {
    if (p.lab === 'pachy') t.append('tspan').text('N. pachy ');
    t.append('tspan').attr('font-style', 'italic').attr('font-family', '"DejaVu Serif", serif').attr('font-size', 19).text('δ');
    t.append('tspan').attr('font-size', 14).attr('dy', -8).text('18');
    t.append('tspan').attr('dy', 8).text('O [‰]');
  }
});

svg.selectAll('text.gi').data(giNames).join('text')
  .attr('x', (d, i) => x(giAges[i])).attr('y', 27.5).attr('text-anchor', 'middle')
  .attr('font-size', 18).attr('fill', '#000').text(d => d);

svg.append('text').attr('x', 575).attr('y', 1519).attr('text-anchor', 'middle')
  .attr('font-size', 21).attr('fill', ink).text('Age (ka BP)');
</script>
</body></html>
